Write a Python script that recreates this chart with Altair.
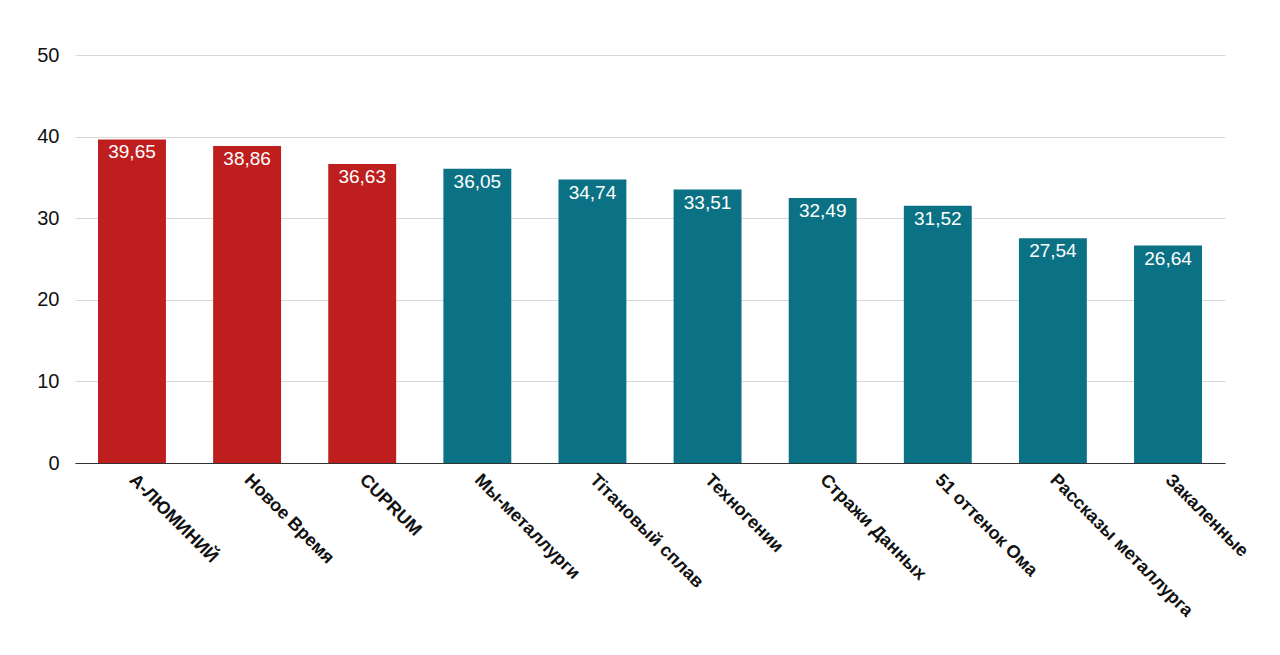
import altair as alt
import pandas as pd

teams = ["А-ЛЮМИНИЙ", "Новое Время", "CUPRUM", "Мы-металлурги", "Tiтановый сплав",
         "Техногении", "Стражи Данных", "51 оттенок Ома", "Рассказы металлурга", "Закаленные"]
values = [39.65, 38.86, 36.63, 36.05, 34.74, 33.51, 32.49, 31.52, 27.54, 26.64]
groups = ["top", "top", "top", "rest", "rest", "rest", "rest", "rest", "rest", "rest"]

df = pd.DataFrame({"team": teams, "value": values, "group": groups,
                   "label": [f"{v:.2f}".replace(".", ",") for v in values]})

base = alt.Chart(df).encode(
    x=alt.X("team:N", sort=None, title=None,
            scale=alt.Scale(paddingInner=0.41, paddingOuter=0.2),
            axis=alt.Axis(labelAngle=45, labelAlign="left", labelBaseline="middle",
                          labelFontSize=18, labelFontWeight="bold", labelColor="#111",
                          ticks=False, domainColor="#333", labelPadding=14,
                          labelFont="Liberation Sans", labelLimit=300)),
    y=alt.Y("value:Q", title=None, scale=alt.Scale(domain=[0, 50]),
            axis=alt.Axis(values=[0, 10, 20, 30, 40, 50], labelFontSize=20, labelColor="#111",
                          domain=False, ticks=False, gridColor="#d8d8d8", labelPadding=16,
                          labelFont="Liberation Sans")),
)

bars = base.mark_bar().encode(
    color=alt.Color("group:N", scale=alt.Scale(domain=["top", "rest"], range=["#BE1E1E", "#0B7285"]),
                    legend=None))
text = base.mark_text(baseline="top", dy=4, color="white", fontSize=19,
                      font="Liberation Sans").encode(text="label:N")

chart = (bars + text).properties(
    width=1150, height=408,
    autosize=alt.AutoSizeParams(type="none"),
    padding={"left": 67, "top": 47, "right": 40, "bottom": 185},
).configure_view(stroke=None)

chart.save("out.html", embed_options={"renderer": "svg", "actions": False})
